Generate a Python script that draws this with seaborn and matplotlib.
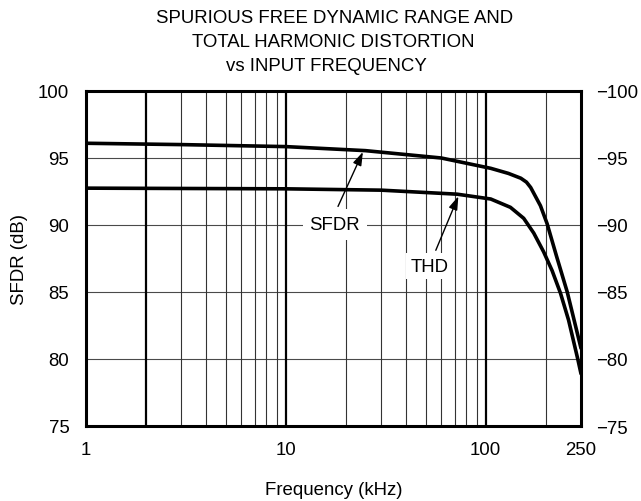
import matplotlib
matplotlib.use("Agg")
import matplotlib.pyplot as plt
import numpy as np
import pandas as pd
import seaborn as sns

# ---- data ----
freq_sfdr = [1, 3, 10, 25, 60, 106, 130, 150, 160, 168, 188, 203, 226, 256, 300]
sfdr_db = [96.1, 96.0, 95.85, 95.55, 95.0, 94.23, 93.85, 93.49, 93.2, 92.8, 91.44, 90.1, 87.7, 85.0, 80.8]
freq_thd = [1, 10, 30, 72, 106, 133, 155, 174, 195, 215, 237, 260, 289, 300]
thd_db = [92.75, 92.7, 92.6, 92.3, 91.94, 91.32, 90.5, 89.4, 88.0, 86.6, 84.9, 82.9, 80.0, 78.9]

x_ticks = [1, 10, 100, 300]
x_tick_labels = ["1", "10", "100", "250"]
y_left_ticks = [75, 80, 85, 90, 95, 100]
y_right_ticks = [-100, -95, -90, -85, -80, -75]
major_grid_x = [2, 10, 100]
minor_grid_x = [3, 4, 5, 6, 7, 8, 9, 20, 30, 40, 50, 60, 70, 80, 90, 200]

title_lines = ["SPURIOUS FREE DYNAMIC RANGE AND", "TOTAL HARMONIC DISTORTION", "vs INPUT FREQUENCY"]

FS = 13.4

sns.set_theme(style="white")
plt.rcParams["font.family"] = ["Liberation Sans", "DejaVu Sans"]
plt.rcParams["font.size"] = FS
plt.rcParams["text.color"] = "black"
plt.rcParams["axes.labelcolor"] = "black"
plt.rcParams["xtick.color"] = "black"
plt.rcParams["ytick.color"] = "black"

df = pd.concat([
    pd.DataFrame({"freq": freq_sfdr, "db": sfdr_db, "series": "SFDR"}),
    pd.DataFrame({"freq": freq_thd, "db": thd_db, "series": "THD"}),
])

fig = plt.figure(figsize=(6.41, 5.02), dpi=100)
ax = fig.add_axes([86 / 641, 1 - 427 / 502, (581 - 86) / 641, (427 - 92) / 502])

ax.set_xscale("log")
ax.set_xlim(1, 300)
ax.set_ylim(75, 100)

# grid
ax.set_yticks(y_left_ticks)
ax.grid(axis="y", color="#4a4a4a", linewidth=0.8)
ax.grid(axis="x", visible=False)
for g in minor_grid_x:
    ax.axvline(g, color="#333333", linewidth=0.8, zorder=1)
for g in major_grid_x:
    ax.axvline(g, color="black", linewidth=1.6, zorder=1)

sns.lineplot(data=df, x="freq", y="db", hue="series", palette=["black", "black"],
             linewidth=2.6, legend=False, ax=ax, zorder=5, estimator=None)

ax.set_xticks(x_ticks)
ax.set_xticklabels(x_tick_labels)
ax.xaxis.set_minor_locator(matplotlib.ticker.NullLocator())
ax.tick_params(axis="both", length=0, labelsize=FS, colors="black")
ax.tick_params(axis="x", pad=11)
ax.tick_params(axis="y", pad=12)

for s in ax.spines.values():
    s.set_linewidth(2.2)
    s.set_color("black")
    s.set_visible(True)

ax.set_xlabel("Frequency (kHz)", fontsize=FS, color="black")
ax.set_ylabel("SFDR (dB)", fontsize=FS, color="black")
ax.xaxis.set_label_coords(0.5, -0.164)
ax.yaxis.set_label_coords(-0.117, 0.5)

ax2 = ax.twinx()
ax2.set_ylim(-75, -100)
ax2.set_yticks(y_right_ticks)
ax2.tick_params(axis="y", length=0, labelsize=FS, pad=11, colors="black")
for s in ax2.spines.values():
    s.set_visible(False)
ax2.grid(False)

# annotations
arrow_kw = dict(arrowstyle="-|>,head_length=0.6,head_width=0.2", color="black", lw=1.0, shrinkB=0)
ax.annotate("SFDR", xy=(24.3, 95.45), xytext=(17.6, 90.05), ha="center", va="center",
            fontsize=FS, zorder=4, color="black",
            bbox=dict(boxstyle="square,pad=0.37", fc="white", ec="none"),
            arrowprops=dict(relpos=(0.4, 0.5), **arrow_kw))
ax.annotate("THD", xy=(73.0, 92.14), xytext=(52.2, 86.94), ha="center", va="center",
            fontsize=FS, zorder=4, color="black",
            bbox=dict(boxstyle="square,pad=0.25", fc="white", ec="none"),
            arrowprops=dict(relpos=(0.5, 0.5), **arrow_kw))

# title
for txt, cx, by in zip(title_lines, [335, 333, 326], [23.3, 47.3, 70.7]):
    fig.text(cx / 641, 1 - by / 502, txt, ha="center", va="baseline", fontsize=FS, color="black")

fig.savefig("out.png", dpi=100)
